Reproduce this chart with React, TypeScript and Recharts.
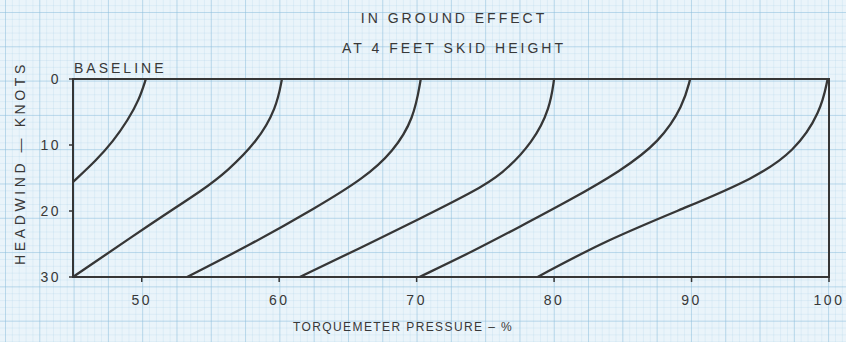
import { LineChart, Line, XAxis, YAxis, ReferenceArea } from 'recharts'

// headwind (knots) vs torquemeter pressure (%) for each curve
const baselineKnots = [0, 3.2, 6.2, 9.5, 12.3, 15.6]
const baselineTorque = [50.3, 49.8, 49.0, 47.9, 46.7, 45]

const curve60Knots = [0, 4.4, 9.5, 14, 16.6, 21.6, 30]
const curve60Torque = [60.2, 59.8, 58.4, 56.2, 54.6, 50.9, 45]

const curve70Knots = [0, 6, 11, 15, 19.6, 25, 30]
const curve70Torque = [70.3, 69.8, 68.3, 66.2, 62.6, 58, 53.3]

const curve80Knots = [0, 4.4, 9.5, 14.5, 17.1, 21, 25.7, 30]
const curve80Torque = [80, 79.7, 78.5, 76.2, 74.1, 70.4, 65.8, 61.5]

const curve90Knots = [0, 4, 9.5, 14, 18.3, 22.6, 26, 30]
const curve90Torque = [89.9, 89.4, 87.7, 84.8, 81.2, 77.3, 74.2, 70.2]

const curve100Knots = [0, 5, 11, 15.1, 19.2, 24.4, 30]
const curve100Torque = [99.9, 99.4, 97.5, 94.5, 89.9, 83.8, 78.8]

const xTicks = [50, 60, 70, 80, 90, 100]
const yTicks = [0, 10, 20, 30]

const curves = [
  [baselineKnots, baselineTorque],
  [curve60Knots, curve60Torque],
  [curve70Knots, curve70Torque],
  [curve80Knots, curve80Torque],
  [curve90Knots, curve90Torque],
  [curve100Knots, curve100Torque],
].map(([knots, torque]) => knots.map((hw, i) => ({ hw, tq: torque[i] })))

const ink = '#363636'
const textInk = '#383838'
const font = '"Liberation Sans", Arial, sans-serif'

const paper = {
  backgroundColor: '#eaf4fa',
  backgroundImage: [
    'linear-gradient(to right, rgba(140,190,220,0.45) 1px, transparent 1px)',
    'linear-gradient(to bottom, rgba(140,190,220,0.45) 1px, transparent 1px)',
    'linear-gradient(to right, rgba(165,205,230,0.22) 1px, transparent 1px)',
    'linear-gradient(to bottom, rgba(165,205,230,0.22) 1px, transparent 1px)',
  ].join(','),
  backgroundSize: '34.3px 34.3px, 34.3px 34.3px, 6.86px 6.86px, 6.86px 6.86px',
  backgroundPosition: '5px 12px, 5px 12px, 5px 12px, 5px 12px',
}

const textStyle = {
  position: 'absolute' as const,
  fontFamily: font,
  fontSize: 14,
  lineHeight: '16px',
  color: textInk,
  letterSpacing: 3,
  whiteSpace: 'nowrap' as const,
}

const tickStyle = { fontSize: 14, fill: textInk, fontFamily: font, letterSpacing: 2.5 }

export default function App() {
  return (
    <div style={{ position: 'absolute', left: 0, top: 0, width: 846, height: 342, overflow: 'hidden', ...paper }}>
      <div style={{ ...textStyle, left: 2, width: 904, textAlign: 'center', top: 10 }}>IN GROUND EFFECT</div>
      <div style={{ ...textStyle, left: 2, width: 904, textAlign: 'center', top: 40 }}>AT 4 FEET SKID HEIGHT</div>
      <div style={{ ...textStyle, left: 74, top: 60 }}>BASELINE</div>
      <div
        style={{
          ...textStyle,
          left: 20,
          top: 163,
          transform: 'translate(-50%, -50%) rotate(-90deg)',
          letterSpacing: 3.6,
        }}
      >
        HEADWIND — KNOTS
      </div>
      <div style={{ ...textStyle, left: 293, top: 319, fontSize: 12, letterSpacing: 1.4 }}>
        TORQUEMETER PRESSURE – %
      </div>
      <LineChart
        width={846}
        height={342}
        layout="vertical"
        margin={{ top: 79, right: 17, bottom: 35, left: 33 }}
        style={{ position: 'absolute', left: 0, top: 0 }}
      >
        <XAxis
          type="number"
          domain={[45, 100]}
          ticks={xTicks}
          allowDataOverflow
          height={30}
          axisLine={false}
          tickLine={{ stroke: ink, strokeWidth: 1.5 }}
          tickSize={5}
          tick={tickStyle}
          tickMargin={13}
        />
        <YAxis
          type="number"
          dataKey="hw"
          domain={[0, 30]}
          ticks={yTicks}
          allowDataOverflow
          width={40}
          axisLine={false}
          tickLine={{ stroke: ink, strokeWidth: 1.5 }}
          tickSize={4}
          tick={tickStyle}
          tickMargin={8}
        />
        <ReferenceArea x1={45} x2={100} y1={0} y2={30} fill="none" stroke={ink} strokeWidth={2} />
        {curves.map((data, i) => (
          <Line
            key={i}
            data={data}
            dataKey="tq"
            type="basis"
            stroke={ink}
            strokeWidth={2.3}
            dot={false}
            isAnimationActive={false}
          />
        ))}
      </LineChart>
    </div>
  )
}
